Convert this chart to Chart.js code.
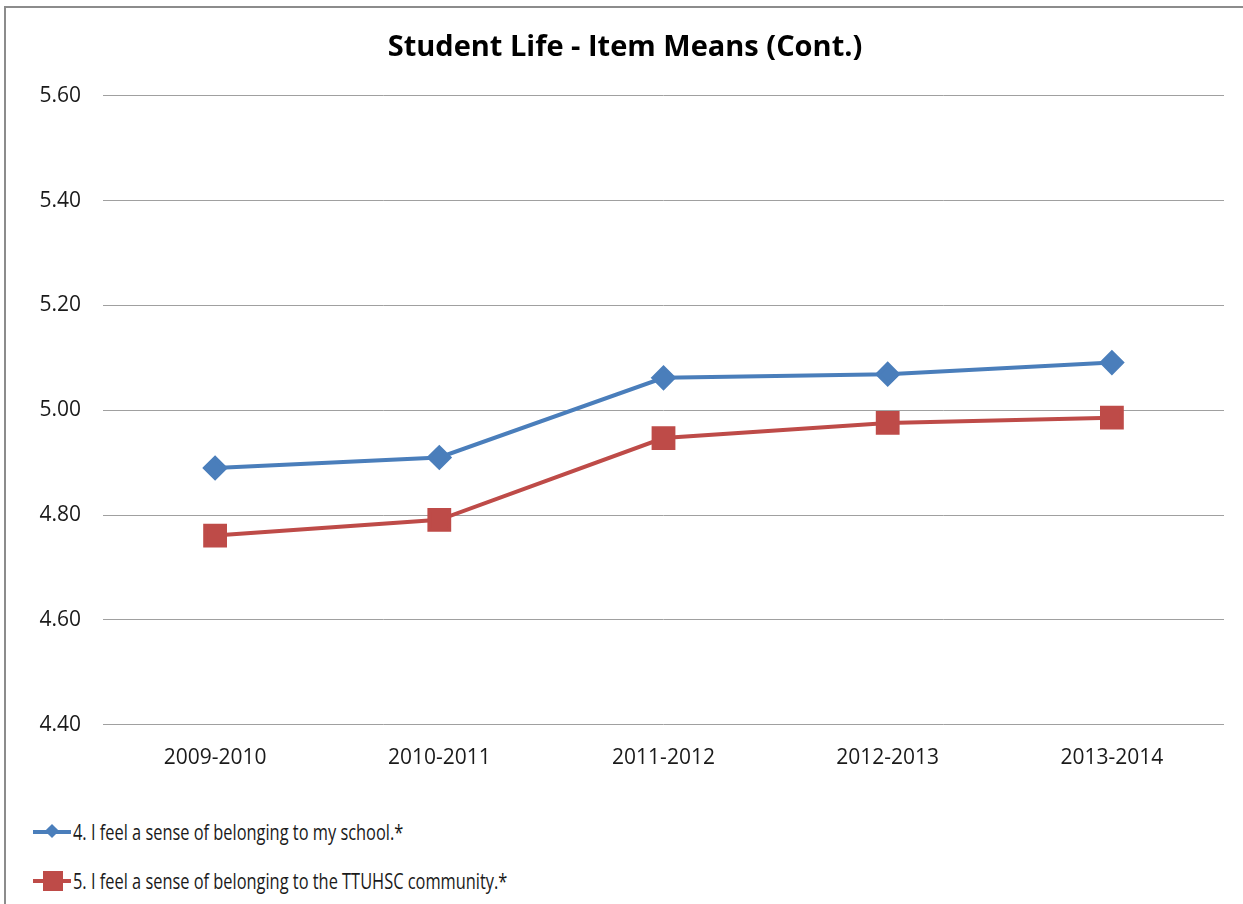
<!DOCTYPE html>
<html>
<head>
<meta charset="utf-8">
<script src="https://cdn.jsdelivr.net/npm/chart.js@4.4.1/dist/chart.umd.min.js"></script>
<style>
  html, body { margin: 0; padding: 0; background: #fff; }
  #frame { position: absolute; left: 4px; top: 6px; width: 1250px; height: 920px; border: 2px solid #8c8c8c; box-sizing: border-box; }
  #wrap { position: absolute; left: 26px; top: 0; width: 1217px; height: 792px; }
  #legend { position: absolute; left: 33px; top: 807px; font-family: "Open Sans", sans-serif; font-size: 21px; color: #1a1a1a; }
  .item { height: 49px; display: flex; align-items: center; }
  .item span { display: inline-block; transform: scaleX(0.78); transform-origin: left center; white-space: nowrap; }
  .sw { position: relative; width: 38px; height: 20px; margin-right: 2px; }
  .sw .ln { position: absolute; left: 0; right: 0; top: 8px; height: 4px; }
  .sw .mk { position: absolute; }
</style>
</head>
<body>
<div id="frame"></div>
<div id="wrap"><canvas id="chart"></canvas></div>
<div id="legend"></div>
<script>
const title = 'Student Life - Item Means (Cont.)';
const years = ['2009-2010', '2010-2011', '2011-2012', '2012-2013', '2013-2014'];
const seriesNames = [
  '4. I feel a sense of belonging to my school.*',
  '5. I feel a sense of belonging to the TTUHSC community.*'
];
const schoolMeans = [4.89, 4.91, 5.062, 5.069, 5.091];
const communityMeans = [4.761, 4.791, 4.947, 4.976, 4.986];
const blue = '#4A7EBB';
const red = '#BE4B48';

const fontFamily = '"Open Sans", "Liberation Sans", sans-serif';

const ctx = document.getElementById('chart').getContext('2d');
new Chart(ctx, {
  type: 'line',
  data: {
    labels: years,
    datasets: [
      {
        label: seriesNames[0],
        data: schoolMeans,
        borderColor: blue,
        backgroundColor: blue,
        borderWidth: 4,
        pointStyle: 'rectRot',
        pointRadius: 10,
        pointHoverRadius: 10,
        tension: 0
      },
      {
        label: seriesNames[1],
        data: communityMeans,
        borderColor: red,
        backgroundColor: red,
        borderWidth: 4,
        pointStyle: 'rect',
        pointRadius: 14,
        pointHoverRadius: 14,
        tension: 0
      }
    ]
  },
  options: {
    responsive: true,
    maintainAspectRatio: false,
    animation: false,
    layout: { padding: { right: 19, top: 0, bottom: 0 } },
    plugins: {
      legend: { display: false },
      tooltip: { enabled: false },
      title: {
        display: true,
        text: title,
        color: '#000',
        font: { family: fontFamily, size: 29, weight: 'bold' },
        padding: { top: 30, bottom: 31 }
      }
    },
    scales: {
      x: {
        offset: true,
        grid: { display: false, drawTicks: false },
        border: { display: false },
        ticks: { color: '#1a1a1a', font: { family: fontFamily, size: 21 }, padding: 21, maxRotation: 0 }
      },
      y: {
        min: 4.4,
        max: 5.6,
        grid: { color: '#a0a0a0', lineWidth: 1, drawTicks: false },
        border: { display: false },
        afterFit: (axis) => { axis.width = 77; },
        ticks: {
          stepSize: 0.2,
          color: '#1a1a1a',
          padding: 22,
          font: { family: fontFamily, size: 21 },
          callback: (v) => Number(v).toFixed(2)
        }
      }
    }
  }
});

// legend stacked vertically like the original
const legend = document.getElementById('legend');
const markers = [
  '<div class="mk" style="left:12px;top:3px;width:10px;height:10px;background:' + blue + ';transform:rotate(45deg);margin:1px 2px;"></div>',
  '<div class="mk" style="left:10px;top:0px;width:20px;height:20px;background:' + red + ';"></div>'
];
[blue, red].forEach((c, i) => {
  const item = document.createElement('div');
  item.className = 'item';
  item.innerHTML = '<div class="sw"><div class="ln" style="background:' + c + '"></div>' + markers[i] + '</div><span>' + seriesNames[i] + '</span>';
  legend.appendChild(item);
});
</script>
</body>
</html>
